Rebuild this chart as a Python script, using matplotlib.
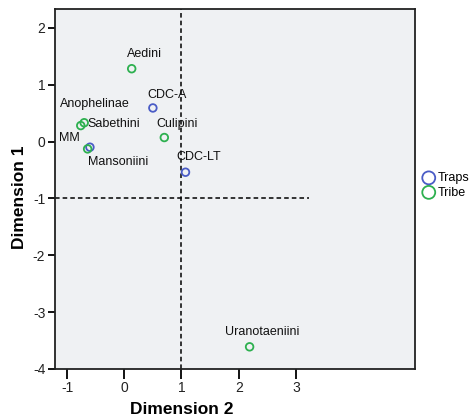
import matplotlib
matplotlib.use("Agg")
import matplotlib.pyplot as plt

# Data
trap_names = ["CDC-A", "MM", "CDC-LT"]
trap_dim2 = [0.50, -0.60, 1.07]
trap_dim1 = [0.59, -0.10, -0.54]

tribe_names = ["Aedini", "Anophelinae", "Sabethini", "Culipini", "Mansoniini", "Uranotaeniini"]
tribe_dim2 = [0.13, -0.76, -0.70, 0.70, -0.64, 2.19]
tribe_dim1 = [1.28, 0.28, 0.33, 0.07, -0.13, -3.61]

x_ticks = [-1, 0, 1, 2, 3]
y_ticks = [-4, -3, -2, -1, 0, 1, 2]

# label offsets in pixels (dx, dy) and alignment
label_style = {
    "CDC-A": (14, 13, "center"),
    "MM": (-10, 9, "right"),
    "CDC-LT": (13, 15, "center"),
    "Aedini": (13, 15, "center"),
    "Anophelinae": (14, 22, "center"),
    "Sabethini": (3, -1, "left"),
    "Culipini": (13, 14, "center"),
    "Mansoniini": (0, -13, "left"),
    "Uranotaeniini": (13, 15, "center"),
}

plt.rcParams['font.family'] = ['Liberation Sans', 'DejaVu Sans']

fig = plt.figure(figsize=(4.77, 4.18), dpi=100)
ax = fig.add_axes([55/477, 1-369/418, 360/477, 360/418])
ax.set_facecolor("#eff1f3")

blue = "#4a5cc6"
green = "#2db04f"

ax.set_xlim(-1.21, 5.08)
ax.set_ylim(-4.0, 2.33)

ax.axvline(1, color="black", lw=1.1, ls=(0, (3, 2)), zorder=1)
ax.hlines(-1, -1.21, 3.22, color="black", lw=1.1, linestyles=[(0, (3, 2))], zorder=1)

ax.scatter(trap_dim2, trap_dim1, s=30, facecolors="none", edgecolors=blue,
           linewidths=1.3, marker="o", label="Traps", zorder=3)
ax.scatter(tribe_dim2, tribe_dim1, s=30, facecolors="none", edgecolors=green,
           linewidths=1.3, marker="o", label="Tribe", zorder=3)

for names, xs, ys in ((trap_names, trap_dim2, trap_dim1), (tribe_names, tribe_dim2, tribe_dim1)):
    for n, x, y in zip(names, xs, ys):
        dx, dy, ha = label_style[n]
        ax.annotate(n, (x, y), xytext=(dx, dy), textcoords="offset pixels",
                    ha=ha, va="center", fontsize=9, color="#111111", zorder=4)

ax.set_xticks(x_ticks)
ax.set_yticks(y_ticks)
ax.set_xticklabels([str(t) for t in x_ticks], fontsize=10, color="#222222")
ax.set_yticklabels([str(t) for t in y_ticks], fontsize=10, color="#222222")
ax.tick_params(axis="x", length=7, width=1.3, direction="out", pad=2)
ax.tick_params(axis="y", length=5, width=1.3, direction="out", pad=2)
for sp in ax.spines.values():
    sp.set_linewidth(1.3)
    sp.set_color("#222222")

ax.text((182-55)/360, (369-409)/360, "Dimension 2", transform=ax.transAxes,
        ha="center", va="center", fontsize=12.5, fontweight="bold")
ax.text((20-55)/360, (369-197)/360, "Dimension 1", transform=ax.transAxes,
        ha="center", va="center", rotation=90, fontsize=12.5, fontweight="bold")

ax.legend(loc="center left", bbox_to_anchor=(1.0, 0.51), frameon=False,
          handlelength=0.8, handletextpad=0.3, borderaxespad=0.3,
          labelspacing=0.2, fontsize=9, markerscale=1.7)

fig.savefig("out.png", dpi=100)
